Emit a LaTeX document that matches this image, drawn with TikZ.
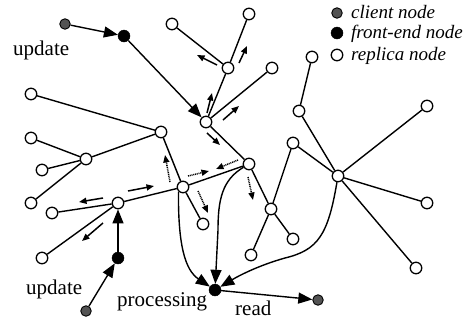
\documentclass[tikz,border=0pt]{standalone}
\usepackage{fontspec}
\setmainfont{Liberation Serif}
\usetikzlibrary{arrows.meta}
\tikzset{
  rep/.style={circle, draw, line width=1.3pt, fill=white, minimum size=11.5pt, inner sep=0pt},
  fe/.style={circle, draw, fill=black, minimum size=12pt, inner sep=0pt},
  cl/.style={circle, draw=black, line width=0.9pt, fill=gray!65!black, minimum size=10.5pt, inner sep=0pt},
  edge/.style={line width=1.4pt},
  big/.style={-{Triangle[length=14pt,width=11pt]}, line width=1.4pt},
  msg/.style={-{Triangle[length=7.5pt,width=6pt]}, line width=1.5pt},
  dmsg/.style={-{Triangle[length=7.5pt,width=6pt]}, line width=1.5pt, dash pattern=on 1pt off 0.8pt},
  lbl/.style={font=\fontsize{21}{21}\selectfont, inner sep=0pt, anchor=base west},
  leg/.style={font=\fontsize{19}{19}\selectfont\itshape, inner sep=0pt, anchor=base west}
}
\begin{document}
\begin{tikzpicture}[x=1pt,y=-1pt]
\useasboundingbox (0,0) rectangle (470,322);
% nodes
\node[cl] (c1) at (65,24) {};
\node[fe] (f1) at (124,36) {};
\node[rep] (R1) at (172,24) {};
\node[rep] (R2) at (249,14) {};
\node[rep] (R3) at (228,68) {};
\node[rep] (R4) at (272,68) {};
\node[rep] (R5) at (206,122) {};
\node[rep] (R6) at (312,57) {};
\node[rep] (R7) at (299,111) {};
\node[rep] (R8) at (293,143) {};
\node[rep] (R9) at (427,106) {};
\node[rep] (H2) at (338,176) {};
\node[rep] (R10) at (427,203) {};
\node[rep] (R11) at (416,268) {};
\node[rep] (R12) at (271,209) {};
\node[rep] (R13) at (293,239) {};
\node[rep] (R14) at (251,255) {};
\node[rep] (R15) at (249,164) {};
\node[rep] (R16) at (183,187) {};
\node[rep] (R17) at (203,224) {};
\node[rep] (R18) at (118,203) {};
\node[fe] (f2) at (118,258) {};
\node[cl] (c2) at (86,311) {};
\node[fe] (f3) at (215,290) {};
\node[cl] (c3) at (318,300) {};
\node[rep] (R19) at (161,132) {};
\node[rep] (R20) at (31,94) {};
\node[rep] (R21) at (31,138) {};
\node[rep] (R22) at (86,159) {};
\node[rep] (R23) at (42,170) {};
\node[rep] (R24) at (31,203) {};
\node[rep] (R25) at (52,213) {};
\node[rep] (R26) at (42,258) {};
% edges
\draw[edge] (R1) -- (R3);
\draw[edge] (R2) -- (R3);
\draw[edge] (R3) -- (R5);
\draw[edge] (R4) -- (R5);
\draw[edge] (R5) -- (R15);
\draw[edge] (R15) -- (R16);
\draw[edge] (R16) -- (R19);
\draw[edge] (R16) -- (R17);
\draw[edge] (R16) -- (R18);
\draw[edge] (R19) -- (R20);
\draw[edge] (R19) -- (R22);
\draw[edge] (R22) -- (R21);
\draw[edge] (R22) -- (R23);
\draw[edge] (R22) -- (R24);
\draw[edge] (R18) -- (R25);
\draw[edge] (R18) -- (R26);
\draw[edge] (R15) -- (R12);
\draw[edge] (R12) -- (R13);
\draw[edge] (R12) -- (R14);
\draw[edge] (R12) -- (R8);
\draw[edge] (R8) -- (H2);
\draw[edge] (R6) -- (R7);
\draw[edge] (R7) -- (H2);
\draw[edge] (H2) -- (R9);
\draw[edge] (H2) -- (R10);
\draw[edge] (H2) -- (R11);
% request arrows
\draw[big] (c1) -- (f1);
\draw[big] (f1) -- (R5);
\draw[big] (c2) -- (f2);
\draw[big] (f2) -- (R18);
\draw[big] (f3) -- (c3);
\draw[big] (R16.south west) .. controls (178,245) and (185,270) .. (f3);
\draw[big] (R15) .. controls (222,180) and (218,200) .. (218,230) -- (f3);
\draw[big] (H2) .. controls (328,235) and (318,250) .. (285,258) .. controls (260,265) and (240,275) .. (f3);
% message arrows
\draw[msg] (217,65) -- (197,55);
\draw[msg] (239,63) -- (247,46);
\draw[msg] (207,113) -- (212,93);
\draw[msg] (223,120) -- (239,106);
\draw[msg] (207,133) -- (220,145);
\draw[msg] (128,191) -- (154,186);
\draw[msg] (103,198) -- (79,202);
\draw[msg] (103,223) -- (82,241);
\draw[dmsg] (238,160) -- (216,169);
\draw[dmsg] (188,176) -- (209,171);
\draw[dmsg] (170,182) -- (165,155);
\draw[dmsg] (198,191) -- (208,213);
\draw[dmsg] (248,177) -- (253,200);
% labels
\node[lbl] (t1) at (13,55) {update};
\node[lbl] (t2) at (26,294) {update};
\node[lbl] (t3) at (117,306) {processing};
\node[lbl] (t4) at (235,315) {read};
% legend
\node[cl] (lc) at (337,13) {};
\node[fe] (lf) at (337,33) {};
\node[rep] (lr) at (337,55) {};
\node[leg] (tl1) at (351,18) {client node};
\node[leg] (tl2) at (351,38) {front-end node};
\node[leg] (tl3) at (351,60) {replica node};
\end{tikzpicture}
\end{document}
